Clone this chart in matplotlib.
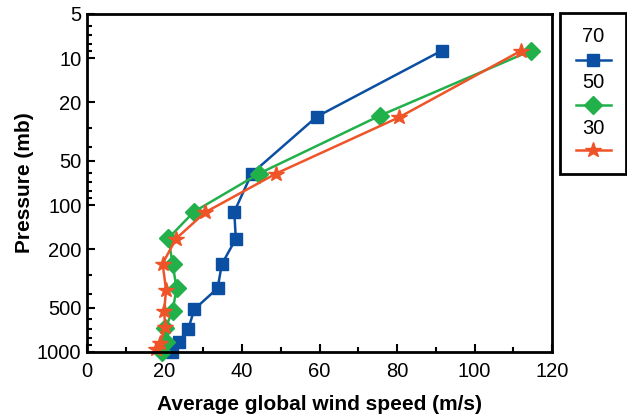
import numpy as np
import matplotlib
matplotlib.use('Agg')
import matplotlib.pyplot as plt
from matplotlib.lines import Line2D
from matplotlib.patches import Rectangle
from matplotlib.ticker import FixedLocator, LogLocator, NullFormatter

plt.rcParams['font.family'] = ['Liberation Sans', 'DejaVu Sans']

# readings
p70 = [8.9, 25, 61, 111, 170, 252, 368, 512, 700, 851, 1000]
v70 = [91.5, 59.3, 42.5, 38.0, 38.4, 34.8, 33.7, 27.7, 26.1, 23.7, 22.0]

p50 = [8.9, 24.6, 61, 111, 168, 252, 368, 526, 690, 851, 1000]
v50 = [114.5, 75.6, 44.4, 27.6, 21.0, 22.1, 23.1, 22.1, 20.2, 20.4, 19.4]

p30 = [8.9, 25.2, 61, 112, 169, 250, 378, 530, 680, 870, 959]
v30 = [112.0, 80.6, 48.8, 30.5, 23.0, 19.5, 20.4, 19.9, 20.2, 18.8, 17.8]

labels = ['70', '50', '30']
colors = ['#0b4fa3', '#22b04b', '#ef5428']
markers = ['s', 'D', '*']
msizes = [8.5, 9, 11.5]

yticks = [5, 10, 20, 50, 100, 200, 500, 1000]

fig = plt.figure(figsize=(6.27, 4.19), dpi=100)
ax = fig.add_axes([0.1388, 0.160, 0.7416, 0.8066])

series = [(v70, p70), (v50, p50), (v30, p30)]
for (v, p), c, m, ms in zip(series, colors, markers, msizes):
    ax.plot(v, p, '-', color=c, lw=1.8, marker=m, ms=ms, mec=c, mfc=c, clip_on=False, zorder=3)

ax.set_yscale('log')
ax.set_ylim(1000, 5)
ax.set_xlim(0, 120)
ax.yaxis.set_major_locator(FixedLocator(yticks))
ax.set_yticklabels([str(t) for t in yticks])
ax.yaxis.set_minor_locator(LogLocator(base=10, subs=np.arange(2, 10)))
ax.yaxis.set_minor_formatter(NullFormatter())
ax.set_xticks(np.arange(0, 121, 20))
ax.set_xticks(np.arange(10, 120, 20), minor=True)

ax.tick_params(which='both', direction='in', width=1.5, labelsize=14.5, top=False, right=False)
ax.tick_params(which='major', length=6)
ax.tick_params(which='minor', length=3.5)
ax.tick_params(axis='x', pad=7)
ax.tick_params(axis='y', pad=4)
for s in ax.spines.values():
    s.set_linewidth(2)
    s.set_zorder(4)

ax.set_xlabel('Average global wind speed (m/s)', fontsize=15, fontweight='bold', labelpad=10)
ax.set_ylabel('Pressure (mb)', fontsize=15, fontweight='bold', labelpad=2)

# legend box outside right, labels above the line samples
W, H = 627, 419
fig.add_artist(Rectangle((560 / W, 1 - 174 / H), 66 / W, 161 / H, transform=fig.transFigure,
                         fill=False, lw=2, ec='black'))
for i, (lab, c, m, ms) in enumerate(zip(labels, colors, markers, msizes)):
    ty = 36 + i * 46
    my = 60 + i * 45
    fig.text(593 / W, 1 - ty / H, lab, ha='center', va='center', fontsize=14.5)
    fig.add_artist(Line2D([576 / W, 611 / W], [1 - my / H, 1 - my / H], transform=fig.transFigure,
                          color=c, lw=1.8))
    fig.add_artist(Line2D([593 / W], [1 - my / H], transform=fig.transFigure,
                          marker=m, ms=ms, color=c, mec=c))

fig.savefig('out.png', dpi=100)
